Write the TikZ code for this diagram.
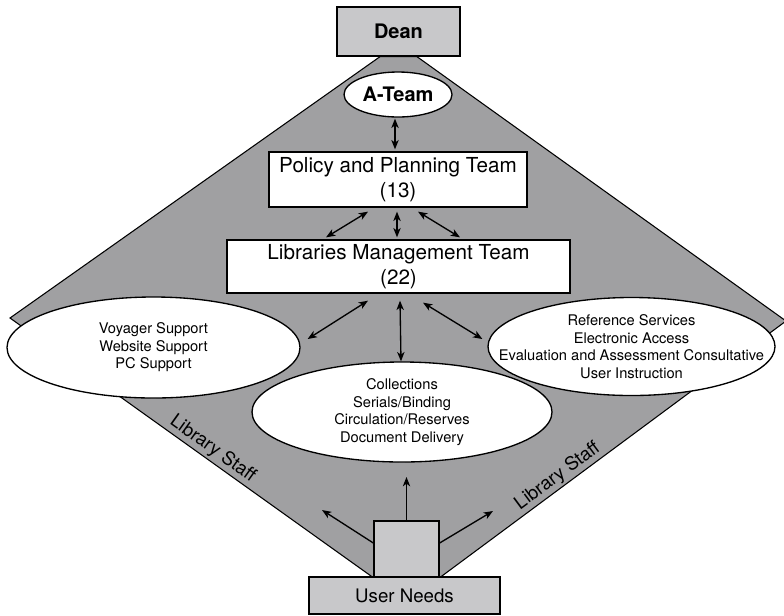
\documentclass[tikz,border=0pt]{standalone}
\usepackage{fontspec}
\setmainfont{TeX Gyre Heros}
\usetikzlibrary{shapes.geometric,arrows.meta,calc,backgrounds}
\definecolor{diagray}{RGB}{160,160,162}
\definecolor{boxgray}{RGB}{200,200,202}
\begin{document}
\begin{tikzpicture}[x=0.75pt,y=-0.75pt,
  rbox/.style={draw=black,line width=1pt,fill=white,inner sep=0pt,align=center,font=\fontsize{15.5}{18.5}\selectfont},
  gbox/.style={draw=black,line width=1pt,fill=boxgray,inner sep=0pt,align=center},
  oval/.style={ellipse,draw=black,line width=1pt,fill=white,inner sep=0pt},
  ovaltext/.style={align=center,inner sep=0pt,font=\fontsize{11}{13.1}\selectfont},
  link/.style={<->,line width=1pt,>={Stealth[length=7pt,width=5.5pt,inset=2pt]}},
  uparrow/.style={->,line width=1pt,>={Stealth[length=7pt,width=5.5pt,inset=2pt]}},
  stafflabel/.style={sloped,above,inner sep=1.5pt,font=\fontsize{14}{16}\selectfont}
]
\useasboundingbox (0,0) rectangle (784,615);
\clip (0,0) rectangle (784,615);

% boxes
\node[gbox,minimum width=92.25pt,minimum height=36.75pt,font=\bfseries\fontsize{15}{18}\selectfont] (dean) at (398.5,31.5) {Dean};
\node[gbox,minimum width=48.75pt,minimum height=42pt] (user) at (406.5,549) {};
\node[gbox,minimum width=143.25pt,minimum height=27.75pt,font=\fontsize{14}{16}\selectfont] (needs) at (404.5,595.5) {User Needs};

% diamond behind
\coordinate (TL) at ($(dean.south)+(-18.5,0)$);
\coordinate (TR) at ($(dean.south)+(18.5,0)$);
\coordinate (L) at (10,318);
\coordinate (R) at (786,321);
\coordinate (BL) at (user.south west);
\coordinate (BR) at (user.south east);
\begin{scope}[on background layer]
  \draw[fill=diagray,line width=0.8pt,line join=miter] (TL) -- (L) -- (BL) -- (BR) -- (R) -- (TR) -- cycle;
\end{scope}

\node[oval,minimum width=81pt,minimum height=33.75pt] (ateam) at (398,94.5) {};
\node[ovaltext,font=\bfseries\fontsize{15}{18}\selectfont] (ateamtext) at (ateam) {A-Team};

\node[rbox,minimum width=193.5pt,minimum height=41.25pt] (policy) at (398,179.5) {Policy and Planning Team\\(13)};
\node[rbox,minimum width=257.25pt,minimum height=39.75pt] (lmt) at (398.5,266.5) {Libraries Management Team\\(22)};

\node[oval,minimum width=219.75pt,minimum height=75.75pt] (tech) at (153.5,347.5) {};
\node[ovaltext] (techtext) at (tech) {Voyager Support\\Website Support\\PC Support};

\node[oval,minimum width=215.25pt,minimum height=73.5pt] (ref) at (631.5,346.5) {};
\node[ovaltext] (reftext) at (ref) {Reference Services\\Electronic Access\\Evaluation and Assessment Consultative\\User Instruction};

\node[oval,minimum width=225pt,minimum height=75pt] (coll) at (402,412) {};
\node[ovaltext] (colltext) at (coll) {Collections\\Serials/Binding\\Circulation/Reserves\\Document Delivery};

% connectors
\draw[link] ($(ateam.south)+(-3,1)$) -- ($(policy.north)+(-3,-2)$);
\draw[link] ($(policy.south)+(-30,4)$) -- ($(lmt.north)+(-72.5,-2)$);
\draw[link] ($(policy.south)+(-1,4)$) -- ($(lmt.north)+(-1.5,-2)$);
\draw[link] ($(policy.south)+(20,4)$) -- ($(lmt.north)+(61.5,-2)$);
\draw[link] ($(lmt.south)+(-30.5,7)$) -- ($(tech.east)+(7,-8.5)$);
\draw[link] ($(lmt.south)+(1.5,7)$) -- ($(coll.north)+(-1,0)$);
\draw[link] ($(lmt.south)+(24.5,9)$) -- ($(ref.west)+(-5,-7.5)$);

\coordinate (upT) at (406.5,477);
\coordinate (upL) at (322,510);
\coordinate (upR) at (493,511);
\draw[uparrow] (user.north) -- (upT);
\draw[uparrow] ($(user.west)+(0,-6)$) -- (upL);
\draw[uparrow] ($(user.east)+(0,-6)$) -- (upR);

% labels
\path (L) -- (BL) node[stafflabel,pos=0.54] {Library Staff};
\path (BR) -- (R) node[stafflabel,pos=0.36] {Library Staff};
\end{tikzpicture}
\end{document}
